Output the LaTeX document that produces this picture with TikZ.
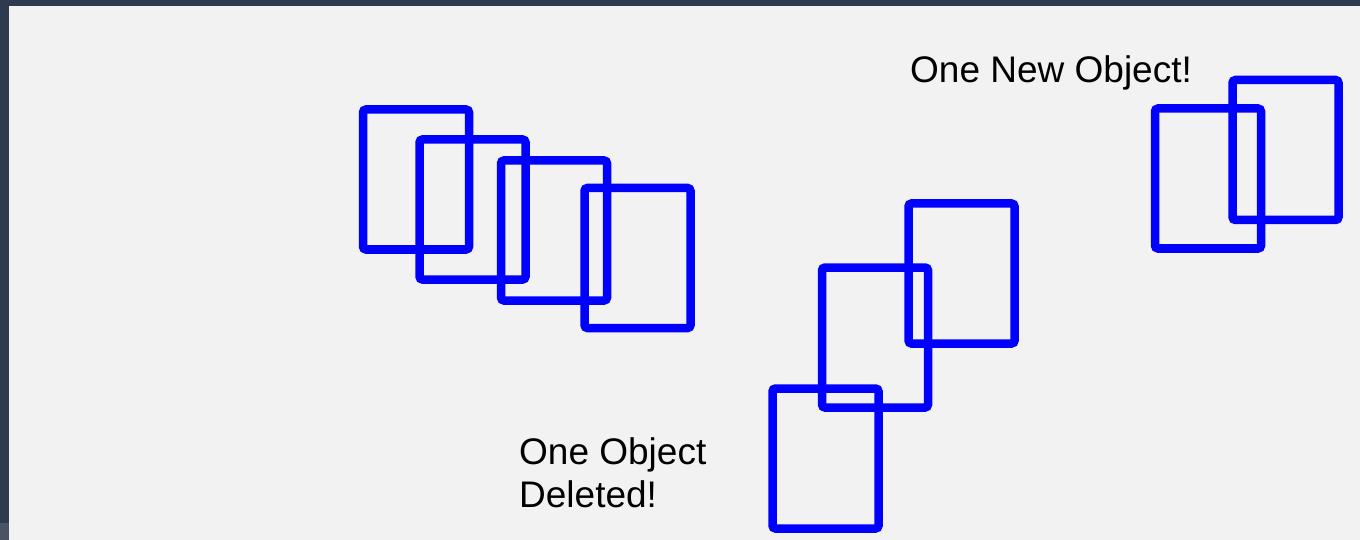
\documentclass[tikz,border=0pt]{standalone}
\usepackage{fontspec}
\setmainfont{Liberation Sans}
\definecolor{bgdark}{HTML}{2E3A4F}
\definecolor{bgstrip}{HTML}{4A5366}
\definecolor{canvas}{HTML}{F2F2F2}
\definecolor{objblue}{HTML}{0000FF}
\tikzset{
  obj/.style={draw=objblue, line width=8.5pt, rounded corners=3pt, inner sep=0pt,
    minimum width=106pt, minimum height=140pt},
  label/.style={inner sep=0pt, anchor=base west, align=left,
    font=\fontsize{37}{43}\selectfont, text=black}
}
\begin{document}
\begin{tikzpicture}[x=1pt,y=-1pt]
\useasboundingbox (0,0) rectangle (1360,540);
\fill[bgdark] (0,0) rectangle (1360,540);
\fill[bgstrip] (0,523) rectangle (9,540);
\fill[canvas] (9,6) rectangle (1360,540);
% objects
\node[obj] (r1) at (416,179.5) {};
\node[obj] (r2) at (472.5,209.5) {};
\node[obj] (r3) at (554,230.5) {};
\node[obj] (r4) at (637.5,258) {};
\node[obj] (r5) at (961.5,273.5) {};
\node[obj] (r6) at (875,337.5) {};
\node[obj] (r7) at (825.5,458.5) {};
\node[obj] (r8) at (1208,178.5) {};
\node[obj] (r9) at (1285.5,150) {};
% labels
\node[label] (tnew) at (910,83) {One New Object!};
\node[label] (tdel) at (519,507) {One Object\\Deleted!};
\end{tikzpicture}
\end{document}
